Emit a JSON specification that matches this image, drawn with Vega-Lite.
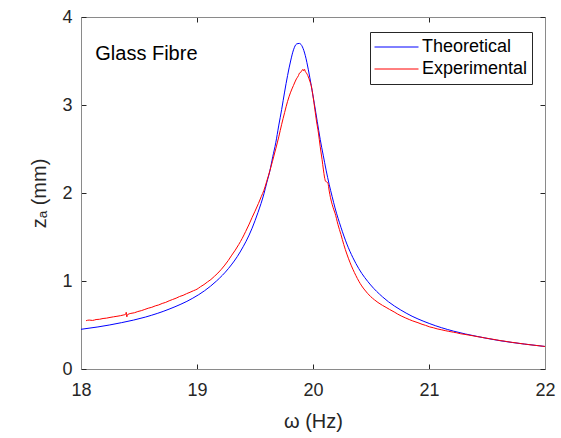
{
  "$schema": "https://vega.github.io/schema/vega-lite/v6.json",
  "width": 464,
  "height": 352,
  "autosize": {"type": "none"},
  "padding": {"left": 81, "top": 17, "right": 16, "bottom": 69},
  "background": "white",
  "config": {
    "view": {"stroke": null},
    "font": "Liberation Sans",
    "axis": {
      "grid": false,
      "labelFlush": false,
      "labelOverlap": false,
      "domainColor": "#8a8a8a",
      "domainWidth": 1,
      "tickColor": "#262626",
      "tickSize": -5,
      "tickWidth": 1,
      "labelFont": "Liberation Sans",
      "labelFontSize": 18,
      "labelColor": "#262626",
      "titleFont": "Liberation Sans",
      "titleFontSize": 20,
      "titleFontWeight": "normal",
      "titleColor": "#262626"
    }
  },
  "datasets": {
    "curves": [
      {"w": 18.000, "z": 0.451, "s": "Theoretical"},
      {"w": 18.146, "z": 0.478, "s": "Theoretical"},
      {"w": 18.351, "z": 0.527, "s": "Theoretical"},
      {"w": 18.555, "z": 0.590, "s": "Theoretical"},
      {"w": 18.759, "z": 0.680, "s": "Theoretical"},
      {"w": 18.964, "z": 0.805, "s": "Theoretical"},
      {"w": 19.066, "z": 0.890, "s": "Theoretical"},
      {"w": 19.168, "z": 1.000, "s": "Theoretical"},
      {"w": 19.270, "z": 1.140, "s": "Theoretical"},
      {"w": 19.372, "z": 1.330, "s": "Theoretical"},
      {"w": 19.475, "z": 1.600, "s": "Theoretical"},
      {"w": 19.526, "z": 1.780, "s": "Theoretical"},
      {"w": 19.577, "z": 1.990, "s": "Theoretical"},
      {"w": 19.602, "z": 2.120, "s": "Theoretical"},
      {"w": 19.628, "z": 2.250, "s": "Theoretical"},
      {"w": 19.653, "z": 2.412, "s": "Theoretical"},
      {"w": 19.679, "z": 2.570, "s": "Theoretical"},
      {"w": 19.704, "z": 2.762, "s": "Theoretical"},
      {"w": 19.730, "z": 2.950, "s": "Theoretical"},
      {"w": 19.755, "z": 3.147, "s": "Theoretical"},
      {"w": 19.781, "z": 3.336, "s": "Theoretical"},
      {"w": 19.807, "z": 3.500, "s": "Theoretical"},
      {"w": 19.832, "z": 3.627, "s": "Theoretical"},
      {"w": 19.858, "z": 3.693, "s": "Theoretical"},
      {"w": 19.883, "z": 3.700, "s": "Theoretical"},
      {"w": 19.909, "z": 3.660, "s": "Theoretical"},
      {"w": 19.934, "z": 3.560, "s": "Theoretical"},
      {"w": 19.960, "z": 3.400, "s": "Theoretical"},
      {"w": 19.985, "z": 3.220, "s": "Theoretical"},
      {"w": 20.011, "z": 3.020, "s": "Theoretical"},
      {"w": 20.037, "z": 2.810, "s": "Theoretical"},
      {"w": 20.062, "z": 2.610, "s": "Theoretical"},
      {"w": 20.088, "z": 2.430, "s": "Theoretical"},
      {"w": 20.113, "z": 2.260, "s": "Theoretical"},
      {"w": 20.139, "z": 2.100, "s": "Theoretical"},
      {"w": 20.165, "z": 1.960, "s": "Theoretical"},
      {"w": 20.190, "z": 1.830, "s": "Theoretical"},
      {"w": 20.241, "z": 1.610, "s": "Theoretical"},
      {"w": 20.292, "z": 1.420, "s": "Theoretical"},
      {"w": 20.344, "z": 1.265, "s": "Theoretical"},
      {"w": 20.395, "z": 1.140, "s": "Theoretical"},
      {"w": 20.497, "z": 0.955, "s": "Theoretical"},
      {"w": 20.599, "z": 0.820, "s": "Theoretical"},
      {"w": 20.803, "z": 0.635, "s": "Theoretical"},
      {"w": 21.007, "z": 0.515, "s": "Theoretical"},
      {"w": 21.212, "z": 0.430, "s": "Theoretical"},
      {"w": 21.416, "z": 0.370, "s": "Theoretical"},
      {"w": 21.620, "z": 0.320, "s": "Theoretical"},
      {"w": 21.825, "z": 0.283, "s": "Theoretical"},
      {"w": 22.000, "z": 0.256, "s": "Theoretical"},
      {"w": 18.044, "z": 0.549, "s": "Experimental"},
      {"w": 18.070, "z": 0.556, "s": "Experimental"},
      {"w": 18.100, "z": 0.552, "s": "Experimental"},
      {"w": 18.130, "z": 0.562, "s": "Experimental"},
      {"w": 18.160, "z": 0.565, "s": "Experimental"},
      {"w": 18.190, "z": 0.574, "s": "Experimental"},
      {"w": 18.220, "z": 0.578, "s": "Experimental"},
      {"w": 18.250, "z": 0.586, "s": "Experimental"},
      {"w": 18.280, "z": 0.593, "s": "Experimental"},
      {"w": 18.310, "z": 0.599, "s": "Experimental"},
      {"w": 18.340, "z": 0.606, "s": "Experimental"},
      {"w": 18.370, "z": 0.615, "s": "Experimental"},
      {"w": 18.385, "z": 0.622, "s": "Experimental"},
      {"w": 18.390, "z": 0.645, "s": "Experimental"},
      {"w": 18.395, "z": 0.592, "s": "Experimental"},
      {"w": 18.400, "z": 0.617, "s": "Experimental"},
      {"w": 18.430, "z": 0.632, "s": "Experimental"},
      {"w": 18.460, "z": 0.639, "s": "Experimental"},
      {"w": 18.490, "z": 0.653, "s": "Experimental"},
      {"w": 18.520, "z": 0.663, "s": "Experimental"},
      {"w": 18.550, "z": 0.677, "s": "Experimental"},
      {"w": 18.580, "z": 0.691, "s": "Experimental"},
      {"w": 18.610, "z": 0.701, "s": "Experimental"},
      {"w": 18.640, "z": 0.717, "s": "Experimental"},
      {"w": 18.670, "z": 0.728, "s": "Experimental"},
      {"w": 18.700, "z": 0.745, "s": "Experimental"},
      {"w": 18.730, "z": 0.757, "s": "Experimental"},
      {"w": 18.760, "z": 0.775, "s": "Experimental"},
      {"w": 18.790, "z": 0.790, "s": "Experimental"},
      {"w": 18.820, "z": 0.805, "s": "Experimental"},
      {"w": 18.850, "z": 0.824, "s": "Experimental"},
      {"w": 18.880, "z": 0.837, "s": "Experimental"},
      {"w": 18.910, "z": 0.856, "s": "Experimental"},
      {"w": 18.940, "z": 0.872, "s": "Experimental"},
      {"w": 18.970, "z": 0.890, "s": "Experimental"},
      {"w": 19.000, "z": 0.907, "s": "Experimental"},
      {"w": 19.030, "z": 0.935, "s": "Experimental"},
      {"w": 19.060, "z": 0.959, "s": "Experimental"},
      {"w": 19.090, "z": 0.989, "s": "Experimental"},
      {"w": 19.120, "z": 1.017, "s": "Experimental"},
      {"w": 19.150, "z": 1.053, "s": "Experimental"},
      {"w": 19.180, "z": 1.090, "s": "Experimental"},
      {"w": 19.210, "z": 1.133, "s": "Experimental"},
      {"w": 19.240, "z": 1.181, "s": "Experimental"},
      {"w": 19.270, "z": 1.234, "s": "Experimental"},
      {"w": 19.300, "z": 1.294, "s": "Experimental"},
      {"w": 19.330, "z": 1.351, "s": "Experimental"},
      {"w": 19.360, "z": 1.415, "s": "Experimental"},
      {"w": 19.390, "z": 1.485, "s": "Experimental"},
      {"w": 19.420, "z": 1.564, "s": "Experimental"},
      {"w": 19.450, "z": 1.647, "s": "Experimental"},
      {"w": 19.475, "z": 1.722, "s": "Experimental"},
      {"w": 19.500, "z": 1.793, "s": "Experimental"},
      {"w": 19.530, "z": 1.882, "s": "Experimental"},
      {"w": 19.555, "z": 1.962, "s": "Experimental"},
      {"w": 19.577, "z": 2.031, "s": "Experimental"},
      {"w": 19.600, "z": 2.128, "s": "Experimental"},
      {"w": 19.628, "z": 2.252, "s": "Experimental"},
      {"w": 19.650, "z": 2.357, "s": "Experimental"},
      {"w": 19.679, "z": 2.502, "s": "Experimental"},
      {"w": 19.705, "z": 2.638, "s": "Experimental"},
      {"w": 19.730, "z": 2.781, "s": "Experimental"},
      {"w": 19.755, "z": 2.913, "s": "Experimental"},
      {"w": 19.781, "z": 3.042, "s": "Experimental"},
      {"w": 19.805, "z": 3.138, "s": "Experimental"},
      {"w": 19.832, "z": 3.223, "s": "Experimental"},
      {"w": 19.857, "z": 3.297, "s": "Experimental"},
      {"w": 19.875, "z": 3.335, "s": "Experimental"},
      {"w": 19.883, "z": 3.362, "s": "Experimental"},
      {"w": 19.895, "z": 3.372, "s": "Experimental"},
      {"w": 19.905, "z": 3.395, "s": "Experimental"},
      {"w": 19.914, "z": 3.402, "s": "Experimental"},
      {"w": 19.920, "z": 3.388, "s": "Experimental"},
      {"w": 19.925, "z": 3.408, "s": "Experimental"},
      {"w": 19.935, "z": 3.378, "s": "Experimental"},
      {"w": 19.944, "z": 3.362, "s": "Experimental"},
      {"w": 19.955, "z": 3.335, "s": "Experimental"},
      {"w": 19.965, "z": 3.300, "s": "Experimental"},
      {"w": 19.975, "z": 3.262, "s": "Experimental"},
      {"w": 19.985, "z": 3.218, "s": "Experimental"},
      {"w": 20.000, "z": 3.100, "s": "Experimental"},
      {"w": 20.016, "z": 2.952, "s": "Experimental"},
      {"w": 20.030, "z": 2.818, "s": "Experimental"},
      {"w": 20.047, "z": 2.681, "s": "Experimental"},
      {"w": 20.062, "z": 2.528, "s": "Experimental"},
      {"w": 20.078, "z": 2.382, "s": "Experimental"},
      {"w": 20.090, "z": 2.262, "s": "Experimental"},
      {"w": 20.099, "z": 2.182, "s": "Experimental"},
      {"w": 20.109, "z": 2.132, "s": "Experimental"},
      {"w": 20.120, "z": 2.125, "s": "Experimental"},
      {"w": 20.129, "z": 2.110, "s": "Experimental"},
      {"w": 20.140, "z": 2.022, "s": "Experimental"},
      {"w": 20.150, "z": 1.951, "s": "Experimental"},
      {"w": 20.165, "z": 1.872, "s": "Experimental"},
      {"w": 20.180, "z": 1.808, "s": "Experimental"},
      {"w": 20.190, "z": 1.771, "s": "Experimental"},
      {"w": 20.215, "z": 1.642, "s": "Experimental"},
      {"w": 20.241, "z": 1.528, "s": "Experimental"},
      {"w": 20.265, "z": 1.415, "s": "Experimental"},
      {"w": 20.292, "z": 1.306, "s": "Experimental"},
      {"w": 20.318, "z": 1.214, "s": "Experimental"},
      {"w": 20.344, "z": 1.133, "s": "Experimental"},
      {"w": 20.370, "z": 1.061, "s": "Experimental"},
      {"w": 20.395, "z": 0.998, "s": "Experimental"},
      {"w": 20.420, "z": 0.944, "s": "Experimental"},
      {"w": 20.446, "z": 0.898, "s": "Experimental"},
      {"w": 20.470, "z": 0.860, "s": "Experimental"},
      {"w": 20.497, "z": 0.823, "s": "Experimental"},
      {"w": 20.530, "z": 0.786, "s": "Experimental"},
      {"w": 20.560, "z": 0.756, "s": "Experimental"},
      {"w": 20.599, "z": 0.723, "s": "Experimental"},
      {"w": 20.630, "z": 0.700, "s": "Experimental"},
      {"w": 20.660, "z": 0.677, "s": "Experimental"},
      {"w": 20.700, "z": 0.648, "s": "Experimental"},
      {"w": 20.730, "z": 0.624, "s": "Experimental"},
      {"w": 20.760, "z": 0.603, "s": "Experimental"},
      {"w": 20.800, "z": 0.579, "s": "Experimental"},
      {"w": 20.830, "z": 0.562, "s": "Experimental"},
      {"w": 20.860, "z": 0.546, "s": "Experimental"},
      {"w": 20.905, "z": 0.526, "s": "Experimental"},
      {"w": 20.940, "z": 0.508, "s": "Experimental"},
      {"w": 20.970, "z": 0.496, "s": "Experimental"},
      {"w": 21.007, "z": 0.478, "s": "Experimental"},
      {"w": 21.040, "z": 0.468, "s": "Experimental"},
      {"w": 21.070, "z": 0.456, "s": "Experimental"},
      {"w": 21.110, "z": 0.445, "s": "Experimental"},
      {"w": 21.140, "z": 0.436, "s": "Experimental"},
      {"w": 21.170, "z": 0.428, "s": "Experimental"},
      {"w": 21.210, "z": 0.418, "s": "Experimental"},
      {"w": 21.240, "z": 0.411, "s": "Experimental"},
      {"w": 21.270, "z": 0.401, "s": "Experimental"},
      {"w": 21.310, "z": 0.393, "s": "Experimental"},
      {"w": 21.340, "z": 0.386, "s": "Experimental"},
      {"w": 21.380, "z": 0.377, "s": "Experimental"},
      {"w": 21.420, "z": 0.367, "s": "Experimental"},
      {"w": 21.450, "z": 0.361, "s": "Experimental"},
      {"w": 21.480, "z": 0.353, "s": "Experimental"},
      {"w": 21.520, "z": 0.345, "s": "Experimental"},
      {"w": 21.550, "z": 0.338, "s": "Experimental"},
      {"w": 21.580, "z": 0.331, "s": "Experimental"},
      {"w": 21.620, "z": 0.322, "s": "Experimental"},
      {"w": 21.650, "z": 0.317, "s": "Experimental"},
      {"w": 21.680, "z": 0.310, "s": "Experimental"},
      {"w": 21.720, "z": 0.302, "s": "Experimental"},
      {"w": 21.750, "z": 0.297, "s": "Experimental"},
      {"w": 21.780, "z": 0.291, "s": "Experimental"},
      {"w": 21.820, "z": 0.284, "s": "Experimental"},
      {"w": 21.850, "z": 0.279, "s": "Experimental"},
      {"w": 21.880, "z": 0.274, "s": "Experimental"},
      {"w": 21.920, "z": 0.268, "s": "Experimental"},
      {"w": 21.950, "z": 0.264, "s": "Experimental"},
      {"w": 21.980, "z": 0.259, "s": "Experimental"},
      {"w": 22.000, "z": 0.256, "s": "Experimental"}
    ],
    "note": [
      {"label": "Glass Fibre", "w": 18.123, "z": 3.515}
    ]
  },
  "layer": [
    {
      "data": {"name": "curves"},
      "mark": {"type": "line", "strokeWidth": 1, "interpolate": "monotone", "clip": true},
      "encoding": {
        "x": {
          "field": "w", "type": "quantitative",
          "scale": {"domain": [18, 22], "nice": false, "zero": false},
          "axis": {"orient": "bottom", "values": [18, 19, 20, 21, 22], "title": "ω (Hz)", "labelPadding": 17, "titlePadding": 12}
        },
        "y": {
          "field": "z", "type": "quantitative",
          "scale": {"domain": [0, 4], "nice": false, "zero": true},
          "axis": {"orient": "left", "values": [0, 1, 2, 3, 4], "title": "zₐ (mm)", "labelPadding": 14, "titlePadding": 12}
        },
        "color": {
          "field": "s", "type": "nominal",
          "scale": {"domain": ["Theoretical", "Experimental"], "range": ["#0000ff", "#ff0000"]},
          "legend": {
            "orient": "none", "legendX": 289, "legendY": 15, "title": null,
            "symbolType": "stroke", "symbolSize": 1936, "symbolStrokeWidth": 1,
            "clipHeight": 22, "labelFont": "Liberation Sans", "labelFontSize": 18, "labelColor": "#000000",
            "labelOffset": 3, "padding": 4, "rowPadding": 0, "symbolOffset": 0,
            "strokeColor": "#262626", "fillColor": "#ffffff"
          }
        }
      }
    },
    {
      "data": {"name": "note"},
      "mark": {"type": "text", "align": "left", "baseline": "alphabetic", "font": "Liberation Sans", "fontSize": 20, "color": "#000000"},
      "encoding": {
        "x": {"field": "w", "type": "quantitative", "axis": {"orient": "top", "values": [18, 19, 20, 21, 22], "labels": false, "title": null}},
        "y": {"field": "z", "type": "quantitative", "axis": {"orient": "right", "values": [0, 1, 2, 3, 4], "labels": false, "title": null}},
        "text": {"field": "label"}
      }
    }
  ],
  "resolve": {"axis": {"x": "independent", "y": "independent"}}
}
